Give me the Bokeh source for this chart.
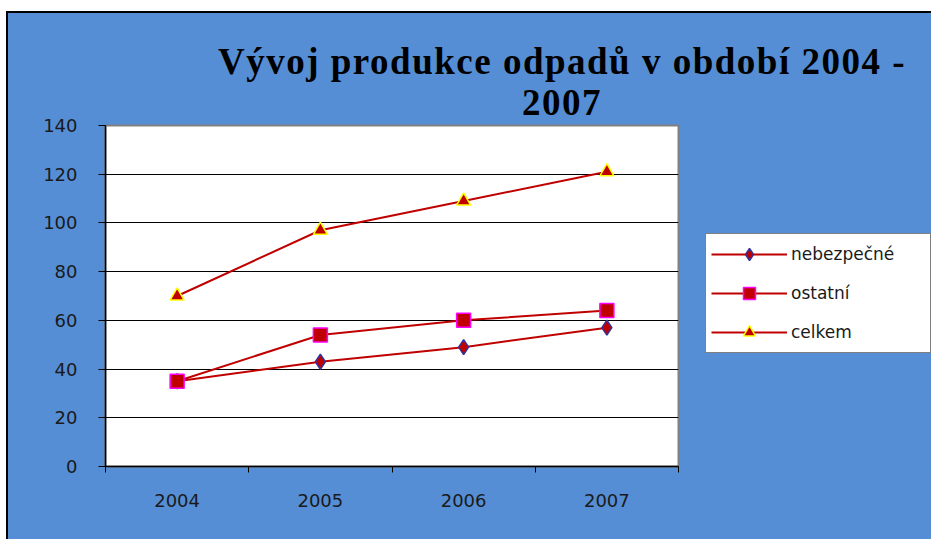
from bokeh.plotting import figure
from bokeh.models import Range1d, FixedTicker, Legend, LegendItem, Div, Spacer
from bokeh.layouts import column, row
from bokeh.embed import file_html
from bokeh.resources import INLINE

# ---- data ----
years = ["2004", "2005", "2006", "2007"]
nebezpecne = [35, 43, 49, 57]
ostatni = [35, 54, 60, 64]
celkem = [70, 97, 109, 121]
y_ticks = [0, 20, 40, 60, 80, 100, 120, 140]
series_names = ["nebezpečné", "ostatní", "celkem"]
title_lines = ["Vývoj produkce odpadů v období 2004 -", "2007"]

BLUE = "#558ED5"
RED = "#C00000"
SANS = "DejaVu Sans"

xs = [i + 0.5 for i in range(len(years))]

# series styles: (values, marker, size, outline colour)
series = [
    (nebezpecne, "diamond", 15, "#333399"),
    (ostatni, "square", 14, "#FF00FF"),
    (celkem, "triangle", 14, "#FFFF00"),
]

# ---- title block (blue band above the plot) ----
title_html = (
    '<div style="width:800px;margin-left:154px;padding-top:28px;text-align:center;'
    'font-family:\'Liberation Serif\';font-weight:bold;font-size:37px;line-height:41px;'
    'letter-spacing:1.5px;color:black;white-space:nowrap;">'
    + "<br>".join(title_lines) + "</div>"
)
title_div = Div(text=title_html, width=923, height=102, margin=0,
                styles={"background-color": BLUE})

# ---- main chart ----
p = figure(width=681, height=424, output_backend="svg", toolbar_location=None,
           x_range=Range1d(0, len(years)), y_range=Range1d(y_ticks[0], y_ticks[-1]),
           min_border_left=97, min_border_right=11, min_border_top=10, min_border_bottom=73)

p.border_fill_color = BLUE
p.background_fill_color = "white"
p.outline_line_color = "#808080"
p.outline_line_width = 2

xa = p.xaxis[0]
xa.ticker = FixedTicker(ticks=xs, minor_ticks=list(range(len(years) + 1)))
xa.major_label_overrides = {x: y for x, y in zip(xs, years)}
xa.major_tick_out = 0
xa.major_tick_in = 0
xa.minor_tick_out = 6
xa.minor_tick_in = 0
xa.minor_tick_line_color = "black"
xa.axis_line_color = "black"
xa.axis_line_width = 1.5
xa.major_label_standoff = 21
xa.major_label_text_font = SANS
xa.major_label_text_font_size = "18px"
xa.major_label_text_color = "#1a1a1a"

ya = p.yaxis[0]
ya.ticker = FixedTicker(ticks=y_ticks)
ya.major_tick_out = 7
ya.major_tick_in = 0
ya.minor_tick_line_color = None
ya.major_tick_line_color = "black"
ya.axis_line_color = "black"
ya.axis_line_width = 1.5
ya.major_label_standoff = 21
ya.major_label_text_font = SANS
ya.major_label_text_font_size = "18px"
ya.major_label_text_color = "#1a1a1a"

p.xgrid.visible = False
p.ygrid.ticker = FixedTicker(ticks=y_ticks[1:-1])
p.ygrid.grid_line_color = "black"
p.ygrid.grid_line_width = 1

for vals, mk, sz, oc in series:
    p.line(xs, vals, line_color=RED, line_width=2)
    p.scatter(xs, vals, marker=mk, size=sz, fill_color=RED, line_color=oc, line_width=1.5)

# ---- legend panel (separate canvas to the right; frames are aligned in a row) ----
p_leg = figure(width=242, height=424, output_backend="svg", toolbar_location=None,
               x_axis_type=None, y_axis_type=None, min_border=0,
               x_range=Range1d(0, 1), y_range=Range1d(0, 1))
p_leg.border_fill_color = BLUE
p_leg.background_fill_color = BLUE
p_leg.outline_line_color = None
p_leg.grid.visible = False

items = []
for name, (vals, mk, sz, oc) in zip(series_names, series):
    lr = p_leg.line(xs, vals, line_color=RED, line_width=2, visible=False)
    sr = p_leg.scatter(xs, vals, marker=mk, size=sz, fill_color=RED, line_color=oc,
                       line_width=1.5, visible=False)
    items.append(LegendItem(label=name, renderers=[lr, sr]))

legend = Legend(items=items, location=(16, 113), padding=5, spacing=9, margin=0,
                glyph_width=76, glyph_height=30, label_standoff=4, label_width=134,
                label_text_font=SANS, label_text_font_size="17px", label_text_color="#1a1a1a",
                border_line_color="black", border_line_width=1.5,
                background_fill_color="white", background_fill_alpha=1,
                inactive_fill_alpha=0)
p_leg.add_layout(legend, "center")

BLACK = {"background-color": "black"}
BLUE_BG = {"background-color": BLUE}
layout = column(
    Spacer(width=931, height=11, margin=0),
    row(Spacer(width=6, height=2, margin=0), Spacer(width=925, height=2, margin=0, styles=BLACK), spacing=0),
    row(Spacer(width=6, height=526, margin=0), Spacer(width=2, height=526, margin=0, styles=BLACK),
        column(title_div, row(p, p_leg, spacing=0, styles=BLUE_BG), spacing=0, styles=BLUE_BG),
        spacing=0),
    spacing=0)

open("out.html", "w").write(file_html(layout, INLINE))
